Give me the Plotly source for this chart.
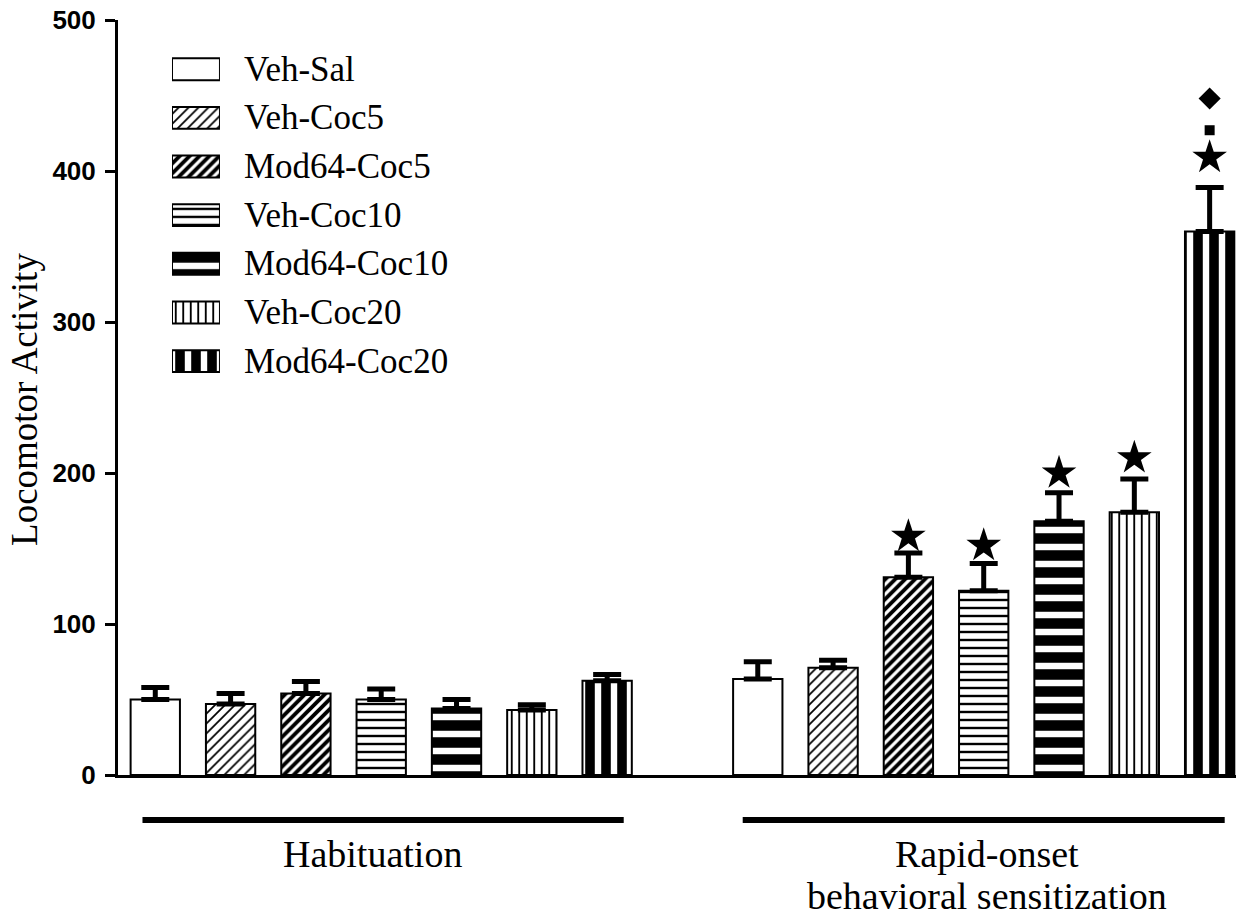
import plotly.graph_objects as go

# groups and their bar styles (order as in the legend)
groups = ["Veh-Sal", "Veh-Coc5", "Mod64-Coc5", "Veh-Coc10",
          "Mod64-Coc10", "Veh-Coc20", "Mod64-Coc20"]
phases = ["Habituation", "Rapid-onset", "behavioral sensitization"]

hab_mean = [50, 47, 54, 50, 44, 43, 62.5]
hab_sem = [8, 7, 8, 7, 6, 3.5, 4]
sens_mean = [63.5, 71, 131, 122, 168, 174, 360]
sens_sem = [11.5, 5, 16, 18, 19, 22, 29]

# significance marks over the sensitization bars
star_groups = [2, 3, 4, 5, 6]
star_gap = [11, 12, 13, 14, 20]       # distance above the error cap
extra_marks = ["square", "diamond"]   # only over Mod64-Coc20
extra_gap = [38, 59]
y_ticks = [0, 100, 200, 300, 400, 500]

patterns = [
    dict(shape=""),
    dict(shape="/", size=7, solidity=0.25),
    dict(shape="/", size=7, solidity=0.55),
    dict(shape="-", size=8, solidity=0.3),
    dict(shape="-", size=17, solidity=0.62),
    dict(shape="|", size=7.5, solidity=0.25),
    dict(shape="|", size=16, solidity=0.6),
]

SERIF = "Liberation Serif, Times New Roman, serif"
SANS = "Liberation Sans, Arial, sans-serif"
GAP = 8  # x offset of the second phase

fig = go.Figure()

for i, name in enumerate(groups):
    pat = dict(fgcolor="black", bgcolor="white", fillmode="replace", **patterns[i])
    fig.add_trace(
        go.Bar(
            x=[i, i + GAP],
            y=[hab_mean[i], sens_mean[i]],
            width=0.655,
            marker=dict(color="white", line=dict(color="black", width=2), pattern=pat),
            error_y=dict(
                type="data",
                symmetric=False,
                array=[hab_sem[i], sens_sem[i]],
                arrayminus=[0, 0],
                color="black",
                thickness=5,
                width=14,
            ),
            showlegend=False,
            hoverinfo="skip",
        )
    )
    # legend box drawn on its own small axes
    fig.add_trace(
        go.Bar(
            x=[1],
            y=[i],
            base=0,
            orientation="h",
            width=0.45,
            xaxis="x2",
            yaxis="y2",
            marker=dict(color="white", line=dict(color="black", width=2), pattern=pat),
            showlegend=False,
            hoverinfo="skip",
        )
    )
    fig.add_annotation(
        x=0, y=i, xref="paper", yref="y2", xshift=124,
        text=name, showarrow=False, xanchor="left", yanchor="middle",
        font=dict(family=SERIF, size=35, color="black"),
    )

# stars
star_x = [g + GAP for g in star_groups]
star_y = [sens_mean[g] + sens_sem[g] + d for g, d in zip(star_groups, star_gap)]
fig.add_trace(
    go.Scatter(
        x=star_x, y=star_y, mode="markers",
        marker=dict(symbol="star", size=26, color="black", opacity=1,
                    line=dict(width=0)),
        showlegend=False, hoverinfo="skip",
    )
)
last = len(groups) - 1
top = sens_mean[last] + sens_sem[last]
for sym, off, sz in zip(extra_marks, extra_gap, [10, 17]):
    fig.add_trace(
        go.Scatter(
            x=[last + GAP], y=[top + off], mode="markers",
            marker=dict(symbol=sym, size=sz, color="#000000", opacity=1,
                        line=dict(width=0)),
            showlegend=False, hoverinfo="skip",
        )
    )

# phase brackets and labels
fig.add_shape(type="line", xref="x", yref="paper", x0=-0.17, x1=6.22,
              y0=-0.0596, y1=-0.0596, line=dict(color="black", width=6))
fig.add_shape(type="line", xref="x", yref="paper", x0=7.8, x1=14.2,
              y0=-0.0596, y1=-0.0596, line=dict(color="black", width=6))
fig.add_annotation(x=2.88, y=-0.104, xref="x", yref="paper", text=phases[0],
                   showarrow=False, yanchor="middle",
                   font=dict(family=SERIF, size=38, color="black"))
fig.add_annotation(x=11.04, y=-0.104, xref="x", yref="paper", text=phases[1],
                   showarrow=False, yanchor="middle",
                   font=dict(family=SERIF, size=38, color="black"))
fig.add_annotation(x=11.04, y=-0.16, xref="x", yref="paper", text=phases[2],
                   showarrow=False, yanchor="middle",
                   font=dict(family=SERIF, size=38, color="black"))

# y title
fig.add_annotation(x=-0.083, y=0.497, xref="paper", yref="paper",
                   text="Locomotor Activity", textangle=-90, showarrow=False,
                   xanchor="center", yanchor="middle",
                   font=dict(family=SERIF, size=37, color="black"))

# the page body adds 8px around the figure
fig.update_layout(
    width=1249,
    height=910,
    margin=dict(l=110, r=21, t=12, b=143, autoexpand=False),
    barmode="overlay",
    plot_bgcolor="white",
    paper_bgcolor="white",
    xaxis=dict(
        range=[-0.495, 14.35], showline=True, linewidth=3, linecolor="black",
        showticklabels=False, ticks="", showgrid=False, zeroline=False,
        automargin=False,
    ),
    yaxis=dict(
        range=[0, 500], tickvals=y_ticks, showline=True, linewidth=3,
        linecolor="black", ticks="outside", ticklen=10, tickwidth=3,
        tickcolor="black", showgrid=False, zeroline=False,
        tickfont=dict(family=SANS, size=26, color="black", weight="bold"),
        ticklabelstandoff=4, automargin=False, ticklabeloverflow="allow",
    ),
    xaxis2=dict(domain=[0.0483, 0.0912], range=[0, 1], anchor="y2",
                visible=False),
    yaxis2=dict(domain=[0.516, 0.967], range=[6.5, -0.5], anchor="x2",
                visible=False),
)

fig.write_html("out.html")
